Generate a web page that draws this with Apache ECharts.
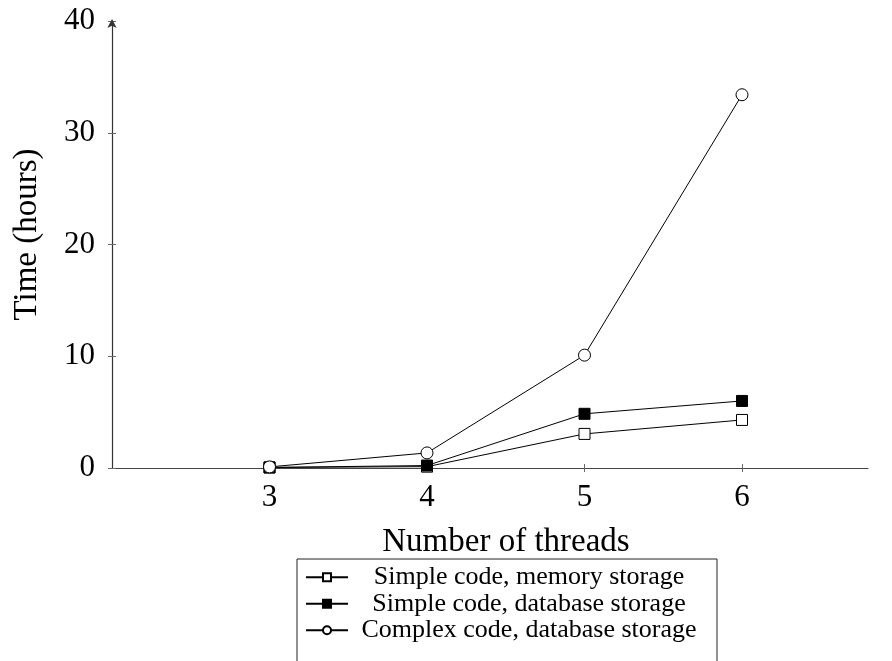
<!DOCTYPE html>
<html>
<head>
<meta charset="utf-8">
<script src="https://cdn.jsdelivr.net/npm/echarts@6/dist/echarts.min.js"></script>
<style>html,body{margin:0;padding:0;background:#fff}#c{width:892px;height:661px}</style>
</head>
<body>
<div id="c"></div>
<script>
var threads = [3, 4, 5, 6];
var xTicks = [3, 4, 5, 6];
var yTicks = [0, 10, 20, 30, 40];
var simpleMemory = [0.05, 0.12, 3.05, 4.3];
var simpleDatabase = [0.05, 0.22, 4.85, 6.0];
var complexDatabase = [0.1, 1.35, 10.1, 33.4];
var seriesNames = ['Simple code, memory storage', 'Simple code, database storage', 'Complex code, database storage'];

function pairs(vals) { return threads.map(function (t, i) { return [t, vals[i]]; }); }

var FONT = 'Liberation Serif';
var chart = echarts.init(document.getElementById('c'), null, { renderer: 'canvas' });
chart.setOption({
  animation: false,
  backgroundColor: '#fff',
  grid: { left: 112, right: 24, top: 21, bottom: 193, containLabel: false },
  xAxis: [{
    type: 'value', min: 2, max: 6.8,
    name: 'Number of threads', nameLocation: 'middle', nameGap: 58,
    nameTextStyle: { color: '#000', fontFamily: FONT, fontSize: 33, padding: [0, 0, 0, 32] },
    axisLine: { show: true, onZero: false, lineStyle: { color: '#444', width: 1.2 } },
    axisTick: { show: true, length: 4, lineStyle: { color: '#666' }, customValues: xTicks },
    axisLabel: { color: '#000', fontFamily: FONT, fontSize: 31, margin: 14, customValues: xTicks },
    splitLine: { show: false }
  }, {
    type: 'value', min: 2, max: 6.8, position: 'bottom',
    axisLine: { show: false },
    axisTick: { show: true, inside: true, length: 4, lineStyle: { color: '#666' }, customValues: xTicks },
    axisLabel: { show: false },
    splitLine: { show: false }
  }],
  yAxis: [{
    type: 'value', min: 0, max: 40, interval: 10,
    name: 'Time (hours)', nameLocation: 'middle', nameGap: 68,
    nameTextStyle: { color: '#000', fontFamily: FONT, fontSize: 33, padding: [0, 0, 0, 20] },
    axisLine: { show: true, symbol: ['none', 'arrow'], symbolSize: [7, 9], symbolOffset: [0, 2], lineStyle: { color: '#333', width: 1.2 } },
    axisTick: { show: true, length: 4, lineStyle: { color: '#666' } },
    axisLabel: { color: '#000', fontFamily: FONT, fontSize: 31, margin: 17 },
    splitLine: { show: false }
  }, {
    type: 'value', min: 0, max: 40, interval: 10, position: 'left',
    axisLine: { show: false },
    axisTick: { show: true, inside: true, length: 4, lineStyle: { color: '#666' } },
    axisLabel: { show: false },
    splitLine: { show: false }
  }],
  legend: {
    orient: 'vertical', left: 297, top: 559, height: 300,
    padding: [5, 12, 40, 8],
    borderColor: '#222', borderWidth: 1,
    itemWidth: 42, itemHeight: 10, itemGap: 0,
    formatter: function (name) { return '{t|' + name + '}'; },
    textStyle: {
      color: '#000', fontFamily: FONT, fontSize: 26, lineHeight: 26.5,
      rich: { t: { width: 352, align: 'center', color: '#000', fontFamily: FONT, fontSize: 26, lineHeight: 26.5 } }
    },
    data: seriesNames
  },
  series: [{
    name: seriesNames[0], type: 'line', data: pairs(simpleMemory),
    symbol: 'rect', symbolSize: 11, showAllSymbol: true,
    lineStyle: { color: '#000', width: 1 },
    itemStyle: { color: '#fff', borderColor: '#000', borderWidth: 1 }
  }, {
    name: seriesNames[1], type: 'line', data: pairs(simpleDatabase),
    symbol: 'rect', symbolSize: 11,
    lineStyle: { color: '#000', width: 1 },
    itemStyle: { color: '#000', borderColor: '#000', borderWidth: 1 }
  }, {
    name: seriesNames[2], type: 'line', data: pairs(complexDatabase),
    symbol: 'circle', symbolSize: 12,
    lineStyle: { color: '#000', width: 1 },
    itemStyle: { color: '#fff', borderColor: '#000', borderWidth: 1 }
  }]
});
</script>
</body>
</html>
